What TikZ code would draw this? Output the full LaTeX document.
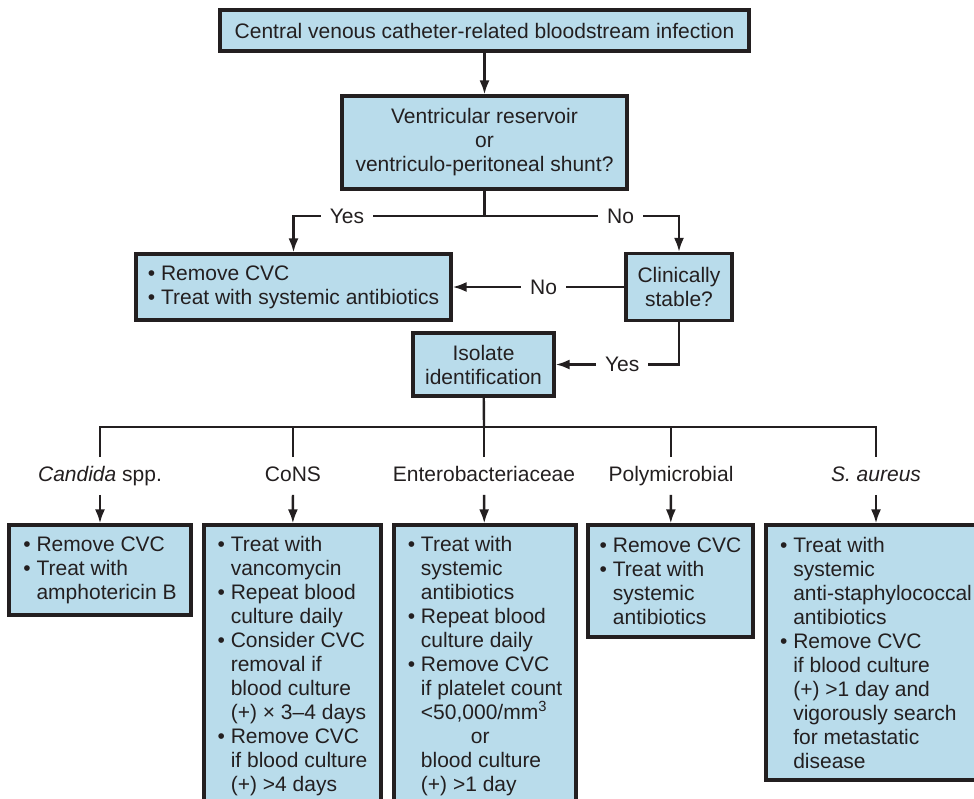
\documentclass[tikz,border=0pt]{standalone}
\usepackage{fontspec}
\setmainfont{Liberation Sans}
\usetikzlibrary{arrows.meta}
\definecolor{boxblue}{HTML}{B9DCEB}
\definecolor{ink}{HTML}{231F20}
\newcommand{\itm}{\textbullet\ }
\newcommand{\ind}{\phantom{\textbullet\ }}

\begin{document}
\begin{tikzpicture}[
        x=0.5pt, y=-0.5pt,
        font=\fontsize{10.5}{12}\selectfont,
        color=ink,
        >={Latex[length=7pt,width=5pt]},
        decision/.style={draw=ink, line width=1.6pt, fill=boxblue, align=center, inner sep=3pt},
        action/.style={draw=ink, line width=1.6pt, fill=boxblue, align=left, inner sep=3pt},
        answer/.style={fill=white, inner xsep=4.5pt, inner ysep=1pt},
        organism/.style={text height=8pt, text depth=2.5pt, inner ysep=4pt},
        link/.style={line width=1.2pt}
    ]
        \useasboundingbox (0,0) rectangle (974,798);
        \clip (0,0) rectangle (974,798);

        \node[decision, minimum width=264.5pt, minimum height=20.5pt] (infection) at (484.5,30.5)
            {Central venous catheter-related bloodstream infection};
        \node[decision, minimum width=142.5pt, minimum height=46.5pt] (shunt) at (484.5,142.5)
            {Ventricular reservoir\\or\\ventriculo-peritoneal shunt?};
        \node[action, minimum width=157.5pt, minimum height=33pt] (removeCVC) at (293.5,287)
            {\itm Remove CVC\\\itm Treat with systemic antibiotics};
        \node[decision, minimum width=53pt, minimum height=33.5pt] (stable) at (679,287)
            {Clinically\\stable?};
        \node[decision, minimum width=70.5pt, minimum height=31.5pt] (isolate) at (483.5,364.5)
            {Isolate\\identification};

        \foreach \name/\x/\species in {candida/100/{\textit{Candida} spp.}, cons/293/CoNS,
                entero/484/Enterobacteriaceae, poly/671/Polymicrobial, aureus/876/{\textit{S. aureus}}} {
            \node[organism] (\name Lab) at (\x,476) {\species};
        }

        \node[action, minimum width=91pt, minimum height=45pt] (candida) at (100,570)
            {\itm Remove CVC\\\itm Treat with\\\ind amphotericin B};
        \node[action, minimum width=88.5pt, minimum height=141pt] (cons) at (292.5,666)
            {\itm Treat with\\\ind vancomycin\\\itm Repeat blood\\\ind culture daily\\
             \itm Consider CVC\\\ind removal if\\\ind blood culture\\\ind (+) × 3–4 days\\
             \itm Remove CVC\\\ind if blood culture\\\ind (+) >4 days};
        \node[action, minimum width=91pt, minimum height=141pt] (entero) at (485,666)
            {\itm Treat with\\\ind systemic\\\ind antibiotics\\\itm Repeat blood\\\ind culture daily\\
             \itm Remove CVC\\\ind if platelet count\\\ind <50,000/mm\textsuperscript{3}\\
             \ind\hspace*{25pt}or\\\ind blood culture\\\ind (+) >1 day};
        \node[action, minimum width=82.5pt, minimum height=56pt] (poly) at (670.5,581)
            {\itm Remove CVC\\\itm Treat with\\\ind systemic\\\ind antibiotics};
        \node[action, minimum width=110pt, minimum height=127.5pt] (aureus) at (876,652.5)
            {\itm Treat with\\\ind systemic\\\ind anti-staphylococcal\\\ind antibiotics\\
             \itm Remove CVC\\\ind if blood culture\\\ind (+) >1 day and\\\ind vigorously search\\
             \ind for metastatic\\\ind disease};

        \coordinate (split) at (484.5,216);
        \coordinate (bus) at (484,427);

        \draw[link, ->] (infection) -- (shunt);
        \draw[link] (shunt) -- (split);
        \draw[link, ->] (split) -| node[answer, pos=0.36] {Yes} (removeCVC.north);
        \draw[link, ->] (split) -| node[answer, pos=0.35] {No} (stable.north);
        \draw[link, ->] (stable) -- node[answer, pos=0.47] {No} (removeCVC);
        \draw[link, ->] (stable) |- node[answer, pos=0.73] {Yes} (isolate);
        \draw[link] (isolate) -- (bus);
        \draw[link] (candidaLab) |- (bus) -| (aureusLab);
        \foreach \name in {cons, entero, poly} {
            \draw[link] (\name Lab) -- (\name Lab |- bus);
        }
        \foreach \name in {candida, cons, entero, poly, aureus} {
            \draw[link, ->] (\name Lab) -- (\name);
        }
    \end{tikzpicture}
\end{document}
